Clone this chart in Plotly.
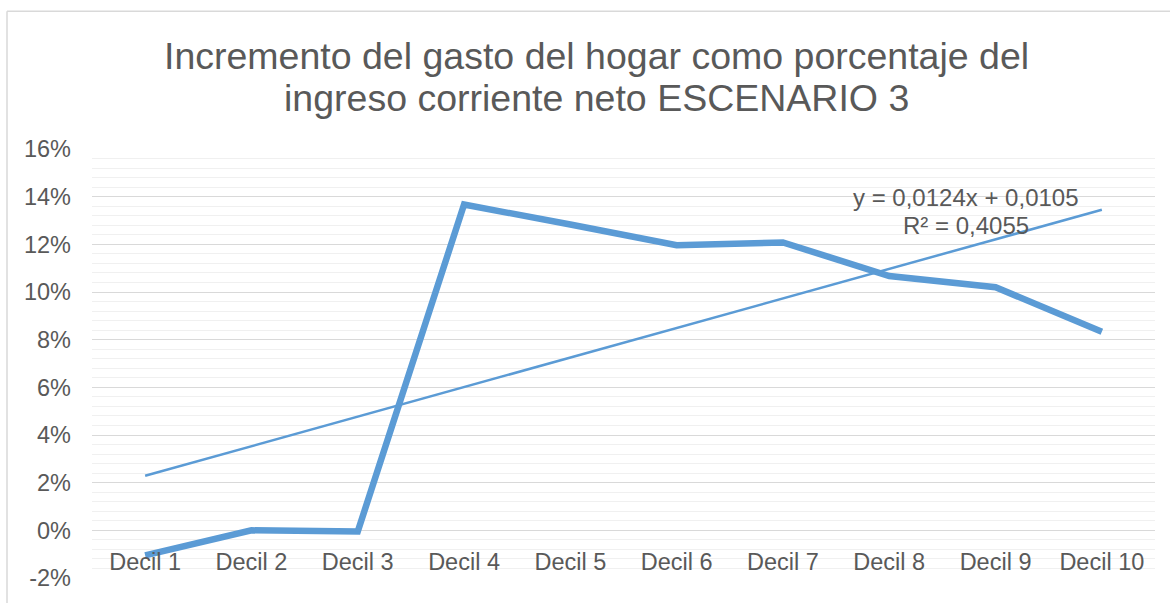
import plotly.graph_objects as go

categories = ["Decil 1", "Decil 2", "Decil 3", "Decil 4", "Decil 5",
              "Decil 6", "Decil 7", "Decil 8", "Decil 9", "Decil 10"]
values = [-0.0105, 0.0000, -0.0005, 0.1367, 0.1283,
          0.1196, 0.1208, 0.1067, 0.1020, 0.0833]
trend_slope = 0.0124
trend_intercept = 0.0105
trend_label = ["y = 0,0124x + 0,0105", "R² = 0,4055"]
title_lines = ["Incremento del gasto del hogar como porcentaje del",
               "ingreso corriente neto ESCENARIO 3"]
y_ticks = [-0.02, 0.0, 0.02, 0.04, 0.06, 0.08, 0.10, 0.12, 0.14, 0.16]
y_ticklabels = ["-2%", "0%", "2%", "4%", "6%", "8%", "10%", "12%", "14%", "16%"]

W, H = 1170, 603
L, R, T, B = 92, 15, 149, 21
PW, PH = W - L - R, H - T - B

xs = list(range(len(categories)))
trend_y = [trend_slope * (i + 1) + trend_intercept for i in xs]

BLUE = "#5B9BD5"
TXT = "#595959"
FONT = "Liberation Sans, Arial, sans-serif"

fig = go.Figure()
fig.add_trace(go.Scatter(x=xs, y=values, mode="lines",
                         line=dict(color=BLUE, width=6.5), hoverinfo="skip",
                         showlegend=False))
fig.add_trace(go.Scatter(x=xs, y=trend_y, mode="lines",
                         line=dict(color=BLUE, width=2.5), hoverinfo="skip",
                         showlegend=False))

ymin, ymax = -0.02, 0.16
fig.update_layout(
    width=W, height=H,
    margin=dict(l=L, r=R, t=T, b=B, pad=0),
    paper_bgcolor="white", plot_bgcolor="white",
    font=dict(family=FONT, color=TXT, size=23.5),
    showlegend=False,
    xaxis=dict(
        range=[-0.5, len(categories) - 0.5],
        tickmode="array", tickvals=xs, ticktext=categories,
        showgrid=False, zeroline=False, showline=False,
        anchor="free", position=(0 - ymin) / (ymax - ymin),
        ticks="", ticklabelstandoff=15,
        tickfont=dict(size=23.5, color=TXT),
    ),
    yaxis=dict(
        range=[ymin, ymax],
        tickmode="array", tickvals=y_ticks, ticktext=y_ticklabels,
        showgrid=True, gridcolor="#D9D9D9", gridwidth=1.3,
        zeroline=False, showline=False, ticks="",
        ticklabelstandoff=20,
        tickfont=dict(size=23.5, color=TXT),
        minor=dict(dtick=0.004, showgrid=True, gridcolor="#F0F0F0", gridwidth=1.3),
    ),
)

# title lines
for line_text, yc in zip(title_lines, [55, 98]):
    fig.add_annotation(text=line_text, xref="paper", yref="paper",
                       x=(596 - L) / PW, y=(H - B - yc) / PH, showarrow=False,
                       xanchor="center", yanchor="middle",
                       font=dict(size=37.5, color=TXT, family=FONT))

# trendline label
for line_text, yc in zip(trend_label, [198, 226]):
    fig.add_annotation(text=line_text, xref="paper", yref="paper",
                       x=(966 - L) / PW, y=(H - B - yc) / PH, showarrow=False,
                       xanchor="center", yanchor="middle",
                       font=dict(size=24, color=TXT, family=FONT))

# chart border (top and left visible)
fig.add_shape(type="line", xref="paper", yref="paper",
              x0=(7 - L) / PW, x1=(W - L + 5) / PW,
              y0=(H - B - 10) / PH, y1=(H - B - 10) / PH,
              line=dict(color="#D9D9D9", width=1.5))
fig.add_shape(type="line", xref="paper", yref="paper",
              x0=(7 - L) / PW, x1=(7 - L) / PW,
              y0=(H - B - 10) / PH, y1=(-B - 5) / PH,
              line=dict(color="#D9D9D9", width=1.5))

fig.write_html("out.html", config={"displayModeBar": False},
               post_script="document.body.style.margin='0';document.body.style.overflow='hidden';")
